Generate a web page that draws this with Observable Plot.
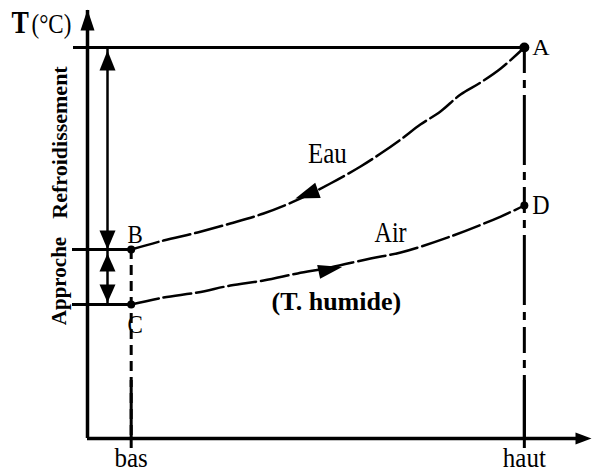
<!DOCTYPE html>
<html>
<head>
<meta charset="utf-8">
<script src="https://cdn.jsdelivr.net/npm/d3@7"></script>
<script src="https://cdn.jsdelivr.net/npm/@observablehq/plot@0.6"></script>
<style>
  html, body { margin: 0; padding: 0; background: white; }
</style>
</head>
<body>
<div id="chart"></div>
<script>
// Positions along the tower (x) and labels
const positionLabels = ["bas", "haut"];
const positionX = [1, 10];

// Water curve (Eau): from B (bas) to A (haut)
const eauX = [1, 1.74, 2.52, 3.27, 4.03, 4.88, 5.56, 6.25, 6.71, 7.17, 7.62, 8.08, 8.54, 9.0, 9.46, 10];
const eauT = [22.08, 23.13, 24.07, 25.12, 26.29, 28.04, 29.79, 31.78, 33.29, 34.93, 36.68, 38.2, 40.19, 41.59, 43.22, 45.68];

// Air curve (T. humide): from C (bas) to D (haut)
const airX = [1, 1.74, 2.52, 3.27, 4.03, 4.81, 5.56, 6.48, 7.17, 8.31, 9.46, 10];
const airT = [15.65, 16.47, 17.06, 17.87, 18.46, 19.28, 19.98, 21.03, 21.73, 23.6, 25.93, 27.22];

// Named points
const pointNames = ["A", "B", "C", "D"];
const pointX = [10, 1, 1, 10];
const pointT = [45.68, 22.08, 15.65, 27.22];

// Axis extents
const xMax = 11.4;
const tMax = 50;

const eau = eauX.map((x, i) => ({x, t: eauT[i]}));
const air = airX.map((x, i) => ({x, t: airT[i]}));
const pts = pointNames.map((name, i) => ({name, x: pointX[i], t: pointT[i]}));
const P = Object.fromEntries(pts.map(d => [d.name, d]));
const onAxis = (p) => ({x: 0, t: p.t});

const triangle = {
  draw(ctx, l, r) {
    ctx.moveTo(0, -l);
    ctx.lineTo(-r, 0);
    ctx.lineTo(r, 0);
    ctx.closePath();
  }
};
const head = (data, opts) => Plot.vector(data, {
  x: "x", y: "t", shape: triangle, fill: "black", stroke: "none", anchor: "end", ...opts
});

const font = "Liberation Serif, Times New Roman, serif";

const svg = Plot.plot({
  width: 593,
  height: 475,
  marginLeft: 87,
  marginRight: 8,
  marginTop: 10,
  marginBottom: 37,
  x: {domain: [0, xMax], axis: null},
  y: {domain: [0, tMax], axis: null},
  style: {fontFamily: font, background: "white", color: "black", overflow: "visible"},
  marks: [
    // axes
    Plot.ruleX([0], {y1: 0, y2: tMax, strokeWidth: 3.5, stroke: "black"}),
    Plot.ruleY([0], {x1: 0, x2: xMax, strokeWidth: 3.5, stroke: "black"}),
    head([{x: 0, t: tMax}], {length: 21, r: 7, rotate: 0, dy: -1}),
    head([{x: xMax, t: 0}], {length: 16, r: 6, rotate: 90, dx: 6}),
    // bottom ticks at bas / haut (solid part)
    Plot.ruleX(positionX, {y1: 0, y2: 0, insetTop: -58, insetBottom: -10, strokeWidth: 3, stroke: "black"}),
    // dashed verticals
    Plot.ruleX([P.B], {x: "x", y1: "t", y2: 0, strokeWidth: 3, stroke: "black", strokeDasharray: "10,6"}),
    Plot.ruleX([P.A], {x: "x", y1: "t", y2: 0, strokeWidth: 3, stroke: "black", strokeDasharray: "26,7,8,7,70,7,8,7"}),
    // horizontal reference lines
    Plot.ruleY([P.A], {y: "t", x1: 0, x2: "x", insetLeft: -14, strokeWidth: 3, stroke: "black"}),
    Plot.ruleY([P.B, P.C], {y: "t", x1: 0, x2: "x", insetLeft: -15, strokeWidth: 3, stroke: "black"}),
    // dimension line
    Plot.ruleX([0], {y1: P.C.t, y2: P.A.t, dx: 20, strokeWidth: 2.5, stroke: "black"}),
    head([onAxis(P.A)], {length: 20, r: 8, rotate: 0, dx: 20, dy: 3}),
    head([onAxis(P.B)], {length: 19, r: 8, rotate: 180, dx: 20}),
    head([onAxis(P.B)], {length: 18, r: 8, rotate: 0, dx: 20, dy: 4}),
    head([onAxis(P.C)], {length: 18, r: 8, rotate: 180, dx: 20, dy: -2}),
    // curves
    Plot.line(eau, {x: "x", y: "t", curve: "catmull-rom", strokeWidth: 2.5, stroke: "black", strokeDasharray: "28,5"}),
    Plot.line(air, {x: "x", y: "t", curve: "catmull-rom", strokeWidth: 2.5, stroke: "black", strokeDasharray: "28,5"}),
    head([eau[5]], {length: 24, r: 8, rotate: 250, anchor: "middle", dx: 6, dy: -4}),
    head([air[6]], {length: 24, r: 7, rotate: 78, anchor: "middle", dy: 2}),
    // points
    Plot.dot([P.A], {x: "x", y: "t", r: 5, fill: "black"}),
    Plot.dot([P.B, P.C, P.D], {x: "x", y: "t", r: 4, fill: "black"}),
    // point labels
    Plot.text([P.A, P.D], {x: "x", y: "t", text: "name", textAnchor: "start", dx: 8, fontSize: 24, fill: "black"}),
    Plot.text([P.B], {x: "x", y: "t", text: "name", dx: 4, dy: -14, fontSize: 23, fill: "black"}),
    Plot.text([P.C], {x: "x", y: "t", text: "name", dx: 4, dy: 21, fontSize: 23, fill: "black"}),
    // curve labels
    Plot.text([eau[6]], {x: "x", y: "t", text: () => "Eau", dx: -3, dy: -30, fontSize: 25, fill: "black"}),
    Plot.text([air[7]], {x: "x", y: "t", text: () => "Air", dx: 20, dy: -26, fontSize: 24, fill: "black"}),
    Plot.text([air[6]], {x: "x", y: "t", text: () => "(T. humide)", dx: 6, dy: 34, fontSize: 26, fontWeight: "bold", fill: "black"}),
    // dimension labels
    Plot.text([{x: 0, t: (P.A.t + P.B.t) / 2}], {x: "x", y: "t", text: () => "Refroidissement", rotate: -90, dx: -28, dy: -6, fontSize: 22, fontWeight: "bold", fill: "black"}),
    Plot.text([{x: 0, t: (P.B.t + P.C.t) / 2}], {x: "x", y: "t", text: () => "Approche", rotate: -90, dx: -28, dy: 4, fontSize: 21, fontWeight: "bold", fill: "black"}),
    // x labels
    Plot.text(positionX.map((x, i) => ({x, label: positionLabels[i]})), {x: "x", y: () => 0, text: "label", dy: 20, fontSize: 25, fill: "black"}),
    // y label
    Plot.text([{x: 0, t: tMax}], {x: "x", y: "t", text: () => "T", textAnchor: "start", dx: -76, dy: 13, fontSize: 26, fontWeight: "bold", fill: "black"}),
    Plot.text([{x: 0, t: tMax}], {x: "x", y: "t", text: () => "(°C)", textAnchor: "start", dx: -56, dy: 14, fontSize: 23, fill: "black"})
  ]
});

// Slightly taller glyphs, like the reference's stretched serif lettering
const stretch = {"bas": 1.12, "haut": 1.12, "Eau": 1.2, "Air": 1.2, "T": 1.18, "(°C)": 1.15, "D": 1.12, "B": 1.08, "C": 1.08};
d3.select(svg).selectAll("text").each(function() {
  const s = stretch[this.textContent];
  const t = this.getAttribute("transform");
  if (s && t) this.setAttribute("transform", `${t} scale(1,${s})`);
});
document.getElementById("chart").appendChild(svg);
</script>
</body>
</html>
